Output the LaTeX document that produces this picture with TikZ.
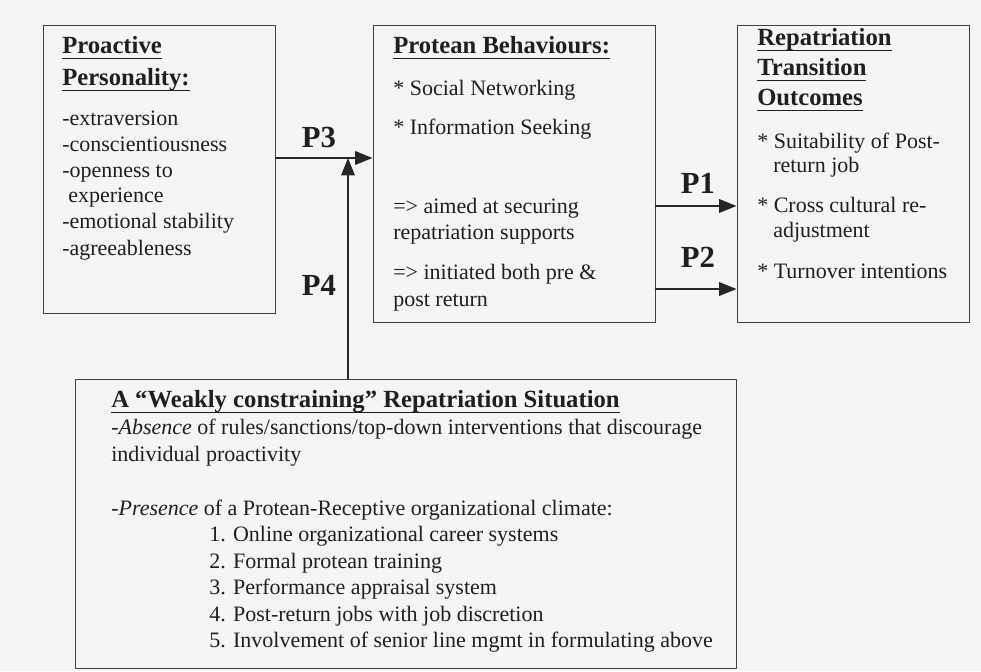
\documentclass[tikz,border=0pt]{standalone}
\usepackage{fontspec}
\setmainfont{Liberation Serif}
\usetikzlibrary{arrows.meta,fit}

\newcommand{\hul}[1]{\underline{\smash{#1}\rule[-2.2pt]{0pt}{1pt}}}

\tikzset{
  box/.style={draw=black!75, line width=0.7pt, inner sep=0pt},
  txt/.style={anchor=base west, inner sep=0pt, text=black!88, font=\fontsize{16.5}{19}\selectfont},
  head/.style={txt, font=\fontsize{18.5}{22}\selectfont\bfseries},
  plab/.style={inner sep=0pt, text=black!88, font=\fontsize{23}{26}\selectfont\bfseries},
  arr/.style={-{Triangle[length=13pt,width=10pt]}, line width=1.7pt, draw=black!85},
}

\begin{document}
\begin{tikzpicture}[x=0.75pt,y=-0.75pt]
	\fill[black!4] (0,0) rectangle (981,671);
	\useasboundingbox (0,0) rectangle (981,671);
	% the four boxes
	\node[box, fit={(43,25) (275,313)}] (pers) {};
	\node[box, fit={(373,25) (655,322)}] (prot) {};
	\node[box, fit={(737,25) (969,322)}] (outc) {};
	\node[box, fit={(75,379) (736,668)}] (sit) {};
	% proactive personality
	\foreach \y/\t [count=\i] in {53/Proactive, 85/Personality:} \node[head] (persh\i) at (62,\y) {\hul{\t}};
	\foreach \x/\y/\t [count=\i] in {62/125/-extraversion, 62/151/-conscientiousness, 62/177/-openness to, 68/202/experience, 62/228/-emotional stability, 62/255/-agreeableness}
		\node[txt] (pers\i) at (\x,\y) {\t};
	% protean behaviours
	\node[head] (proth) at (393,53) {\hul{Protean Behaviours:}};
	\foreach \y/\t [count=\i] in {95/* Social Networking, 134/* Information Seeking, 213/=> aimed at securing, 239/repatriation supports, 279/=> initiated both pre \&, 306/post return}
		\node[txt] (prot\i) at (393,\y) {\t};
	% outcomes
	\foreach \y/\t [count=\i] in {45/Repatriation, 75/Transition, 105/Outcomes} \node[head] (outch\i) at (757,\y) {\hul{\t}};
	\foreach \x/\y/\t [count=\i] in {757/148/* Suitability of Post-, 773/172/return job, 757/212/* Cross cultural re-, 773/237/adjustment, 757/278/* Turnover intentions}
		\node[txt] (outc\i) at (\x,\y) {\t};
	% situation
	\node[head] (sith) at (111,407) {\hul{A “Weakly constraining” Repatriation Situation}};
	\foreach \x/\y/\t [count=\i] in {111/434/{-\textit{Absence} of rules/sanctions/top-down interventions that discourage}, 111/461/individual proactivity, 111/515/{-\textit{Presence} of a Protean-Receptive organizational climate:}, 209/541/1. Online organizational career systems, 209/568/2. Formal protean training, 209/594/3. Performance appraisal system, 209/621/4. Post-return jobs with job discretion, 209/647/5. Involvement of senior line mgmt in formulating above}
		\node[txt] (sit\i) at (\x,\y) {\t};
	% propositions
	\coordinate (j3) at (348,158);
	\coordinate (j1) at (700,206);
	\coordinate (j2) at (700,289);
	\draw[arr] (pers.east |- j3) -- (prot.west |- j3);
	\draw[arr] (sit.north -| j3) -- (j3);
	\draw[arr] (prot.east |- j1) -- (outc.west |- j1);
	\draw[arr] (prot.east |- j2) -- (outc.west |- j2);
	\node[plab] (p3) at (319,137) {P3};
	\node[plab] (p4) at (319,285) {P4};
	\node[plab] (p1) at (698,183) {P1};
	\node[plab] (p2) at (698,257) {P2};
\end{tikzpicture}
\end{document}
